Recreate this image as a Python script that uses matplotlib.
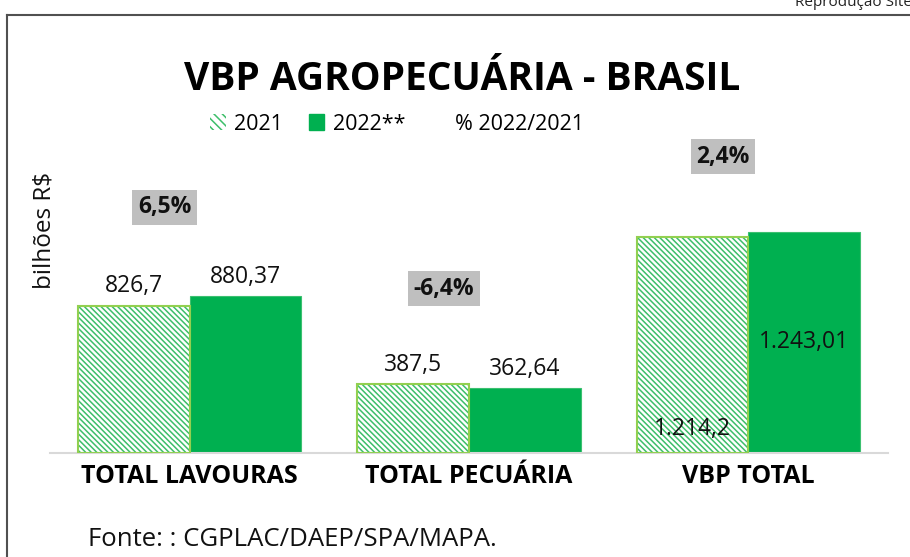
import matplotlib
matplotlib.use("Agg")
import matplotlib.pyplot as plt
import numpy as np
from matplotlib.patches import Patch
from matplotlib.lines import Line2D

# data
categories = ["TOTAL LAVOURAS", "TOTAL PECUÁRIA", "VBP TOTAL"]
vbp_2021 = [826.7, 387.5, 1214.2]
vbp_2022 = [880.37, 362.64, 1243.01]
labels_2021 = ["826,7", "387,5", "1.214,2"]
labels_2022 = ["880,37", "362,64", "1.243,01"]
pct_labels = ["6,5%", "-6,4%", "2,4%"]

plt.rcParams['font.family'] = ['Open Sans', 'DejaVu Sans']
plt.rcParams['hatch.linewidth'] = 1.1

GREEN = "#00B050"
LIGHT = "#92D050"
HATCH = "#3DBE6A"

fig = plt.figure(figsize=(9.10, 5.57), dpi=100)
W, H = 910, 557

# axes in pixel coords
left, right, base = 50, 888, 453
ytop = 1700
px_per_unit = 0.178
ax_h = ytop * px_per_unit
ax = fig.add_axes([left / W, (H - base) / H, (right - left) / W, ax_h / H])

x = np.arange(len(categories))
w = 0.4
# 2021: hatched
ax.bar(x - w / 2, vbp_2021, w, color="white", edgecolor=HATCH,
       hatch="\\" * 6, linewidth=0, zorder=2)
ax.bar(x - w / 2, vbp_2021, w, fill=False, edgecolor=LIGHT,
       linewidth=1.5, zorder=3)
# 2022: solid
ax.bar(x + w / 2, vbp_2022, w, color=GREEN, edgecolor="#3CC070",
       linewidth=0.8, zorder=2)

ax.set_xlim(-0.5, 2.5)
ax.set_ylim(0, ytop)
for s in ["top", "right", "left"]:
    ax.spines[s].set_visible(False)
ax.spines["bottom"].set_color("#D9D9D9")
ax.spines["bottom"].set_linewidth(1.5)
ax.set_yticks([])
ax.set_xticks(x)
ax.set_xticklabels(categories, fontsize=18, fontweight="bold")
ax.tick_params(axis="x", length=0, pad=8)

# value labels
for i in range(len(categories)):
    if i < 2:
        ax.annotate(labels_2021[i], (x[i] - w / 2, vbp_2021[i]),
                    xytext=(0, 14), textcoords="offset points",
                    ha="center", va="center", fontsize=16.5, color="#111111")
        ax.annotate(labels_2022[i], (x[i] + w / 2, vbp_2022[i]),
                    xytext=(0, 14), textcoords="offset points",
                    ha="center", va="center", fontsize=16.5, color="#111111")
    else:
        ax.annotate(labels_2021[i], (x[i] - w / 2, 0),
                    xytext=(0, 17), textcoords="offset points",
                    ha="center", va="center", fontsize=16.5, color="#111111")
        ax.text(x[i] + w / 2, vbp_2022[i] / 2, labels_2022[i],
                ha="center", va="center", fontsize=16.5, color="#111111")

# percentage labels
pct_offset = [500, 535, 420]
for i, lab in enumerate(pct_labels):
    top = max(vbp_2021[i], vbp_2022[i])
    ax.text(x[i] - 0.09, top + pct_offset[i], lab, ha="center", va="center",
            fontsize=16.5, fontweight="bold", color="#111111",
            bbox=dict(facecolor="#BFBFBF", edgecolor="none", pad=4))

# y label
fig.text(45 / W, 1 - 230 / H, "bilhões R$", rotation=90, ha="center",
         va="center", fontsize=17.5, color="#111111")

# title
fig.text(462 / W, 1 - 80 / H, "VBP AGROPECUÁRIA - BRASIL", ha="center",
         va="center", fontsize=28, fontweight="bold", color="black")

# legend
handles = [Patch(facecolor="white", edgecolor=HATCH, hatch="\\" * 4, linewidth=0),
           Patch(facecolor=GREEN, edgecolor=GREEN),
           Line2D([], [], color="none")]
fig.legend(handles, ["2021", "2022**", "% 2022/2021"], loc="center",
           bbox_to_anchor=(397 / W, 1 - 124 / H), ncol=3, frameon=False,
           fontsize=15.5, handlelength=0.7, handleheight=0.7,
           handletextpad=0.4, columnspacing=1.2)

# source
fig.text(88 / W, 1 - 540 / H, "Fonte: : CGPLAC/DAEP/SPA/MAPA.", ha="left",
         va="center", fontsize=18.5, color="#111111")

# frame lines and header
fig.add_artist(Line2D([7 / W, 1], [1 - 15 / H, 1 - 15 / H], color="#505050",
                      linewidth=1.5, transform=fig.transFigure))
fig.add_artist(Line2D([7 / W, 7 / W], [0, 1 - 15 / H], color="#505050",
                      linewidth=1.5, transform=fig.transFigure))
fig.text(795 / W, 1 - 2 / H, "Reprodução Site", ha="left", va="center",
         fontsize=11, color="#222222")

fig.savefig("out.png", dpi=100)
